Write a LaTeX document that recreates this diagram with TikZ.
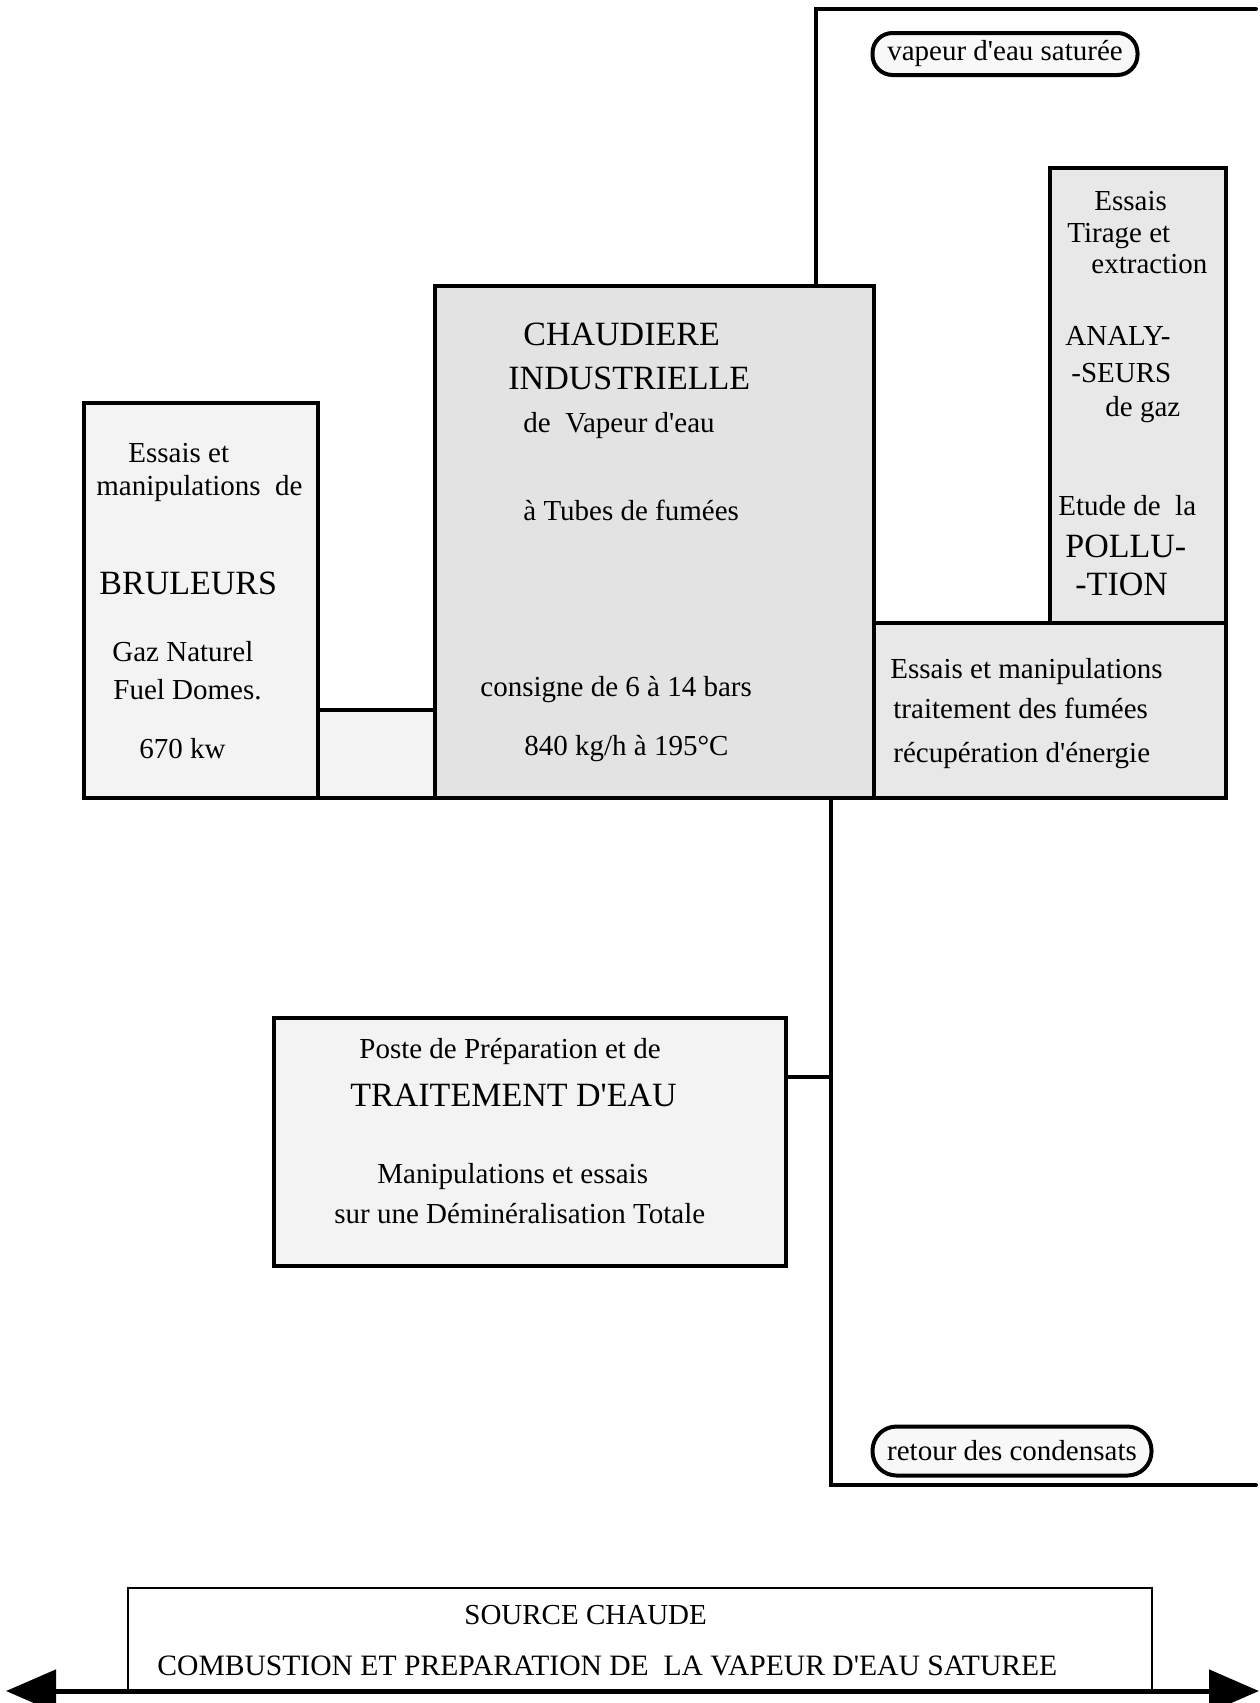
\documentclass[tikz,border=0pt]{standalone}
\usepackage{fontspec}
\setmainfont{Liberation Serif}
\usetikzlibrary{arrows.meta}
\definecolor{lightfill}{RGB}{243,243,243}
\definecolor{midfill}{RGB}{227,227,227}
\definecolor{rightfill}{RGB}{232,232,232}
\definecolor{bubfill}{RGB}{248,248,248}
\newcommand{\fsn}{\fontsize{14.5}{17}\selectfont}
\newcommand{\fsb}{\fontsize{17}{20}\selectfont}
\newcommand{\fsw}{\fontsize{14.8}{17}\selectfont}
\newcommand{\apos}{\textquotesingle}
\tikzset{
  boxnode/.style={draw, line width=2pt, rectangle, anchor=north west, inner sep=0pt, outer sep=0pt},
  txt/.style={anchor=base west, inner sep=0pt, font=\fsn},
  bigtxt/.style={txt, font=\fsb},
  widetxt/.style={txt, font=\fsw},
  bubble/.style={draw, line width=2pt, fill=bubfill, rounded corners=10pt, inner sep=0pt, outer sep=0pt, font=\fsn},
  pipe/.style={line width=2pt, line cap=round},
}
\begin{document}
\begin{tikzpicture}[x=0.5pt, y=-0.5pt]
\useasboundingbox (0,0) rectangle (1259,1703);
% boxes
\node[boxnode, fill=lightfill, minimum width=117pt, minimum height=197.5pt] (brul) at (84,403) {};
\node[boxnode, fill=lightfill, minimum width=58.5pt, minimum height=44pt] (link) at (318,710) {};
\node[boxnode, fill=midfill, minimum width=219.5pt, minimum height=256pt] (chaud) at (435,286) {};
\node[boxnode, fill=rightfill, minimum width=88pt, minimum height=227.5pt] (tirage) at (1050,168) {};
\node[boxnode, fill=rightfill, minimum width=176pt, minimum height=87.5pt] (fumees) at (874,623) {};
\node[boxnode, fill=lightfill, minimum width=256pt, minimum height=124pt] (eau) at (274,1018) {};
\node[boxnode, line width=1pt, minimum width=512pt, minimum height=51.5pt] (source) at (128,1588) {};
% bubbles
\node[bubble, minimum width=132.5pt, minimum height=21pt] (vap) at (1005,54) {vapeur d\apos eau saturée};
\node[bubble, rounded corners=12pt, minimum width=139.5pt, minimum height=24.5pt] (ret) at (1012,1451) {retour des condensats};
% pipes
\coordinate (steamTop) at (816,9);
\coordinate (steamEnd) at (1256,9);
\coordinate (retBot) at (831,1485);
\coordinate (retEnd) at (1256,1485);
\coordinate (eauJ) at (786,1077);
\draw[pipe] (chaud.north -| steamTop) -- (steamTop) -- (steamEnd);
\draw[pipe] (chaud.south -| retBot) -- (retBot) -- (retEnd);
\draw[pipe] (eau.east |- eauJ) -- (eauJ -| retBot);
% bottom double arrow
\coordinate (arL) at (6,1691);
\coordinate (arR) at (1259,1691);
\draw[line width=2.5pt, {Triangle[length=25pt,width=21pt]}-{Triangle[length=25pt,width=21pt]}] (arL) -- (arR);
% texts bruleurs
\node[txt] (b1) at (128,462) {Essais et};
\node[txt] (b2) at (96,495.5) {manipulations\ \ de};
\node[bigtxt] (b3) at (99,594) {BRULEURS};
\node[txt] (b4) at (112,661) {Gaz Naturel};
\node[txt] (b5) at (113,699) {Fuel Domes.};
\node[txt] (b6) at (139,758) {670 kw};
% texts chaudiere
\node[bigtxt] (c1) at (523,345) {CHAUDIERE};
\node[bigtxt] (c2) at (508,389) {INDUSTRIELLE};
\node[txt] (c3) at (523,432) {de\ \ Vapeur d\apos eau};
\node[txt] (c4) at (523,520) {à Tubes de fumées};
\node[txt] (c5) at (480,696) {consigne de 6 à 14 bars};
\node[txt] (c6) at (524,755) {840 kg/h à 195°C};
% texts tirage
\node[txt] (r1) at (1094,210) {Essais};
\node[txt] (r2) at (1067,242) {Tirage et};
\node[txt] (r3) at (1091,273.5) {extraction};
\node[txt] (r4) at (1065,345) {ANALY-};
\node[txt] (r5) at (1071,382) {-SEURS};
\node[txt] (r6) at (1105,416) {de gaz};
\node[txt] (r7) at (1058,515) {Etude de\ \ la};
\node[bigtxt] (r8) at (1065,557) {POLLU-};
\node[bigtxt] (r9) at (1075,595) {-TION};
% texts fumees
\node[txt] (f1) at (890,678.5) {Essais et manipulations};
\node[txt] (f2) at (893,718) {traitement des fumées};
\node[txt] (f3) at (893,762.5) {récupération d\apos énergie};
% texts eau
\node[txt] (e1) at (359,1058) {Poste de Préparation et de};
\node[bigtxt] (e2) at (350,1106) {TRAITEMENT D\apos EAU};
\node[txt] (e3) at (377,1183) {Manipulations et essais};
\node[txt] (e4) at (334,1223) {sur une Déminéralisation Totale};
% texts source
\node[txt] (s1) at (464,1624) {SOURCE CHAUDE};
\node[widetxt] (s2) at (157,1675) {COMBUSTION ET PREPARATION DE\ \ LA VAPEUR D\apos EAU SATUREE};
\end{tikzpicture}
\end{document}
